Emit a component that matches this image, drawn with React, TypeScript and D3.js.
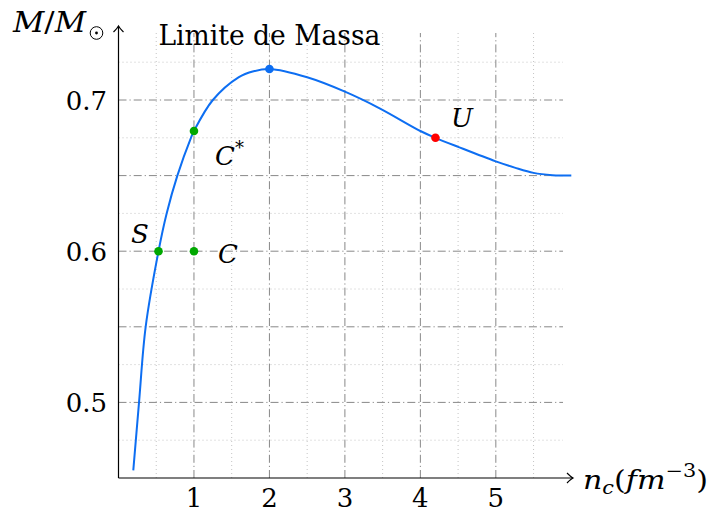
import React from 'react';
import * as d3 from 'd3';

// central density (fm^-3) vs mass (solar masses)
const curveN = [0.196, 0.272, 0.36, 0.53, 0.638, 0.78, 0.96, 1.0, 1.25, 1.59, 1.79, 2.0, 2.5, 3.0, 3.46, 4.0, 4.2, 4.5, 5.0, 5.25, 5.5, 5.75, 6.0];
const curveM = [0.455, 0.5, 0.55, 0.6, 0.625, 0.65, 0.675, 0.6795, 0.7, 0.715, 0.719, 0.7205, 0.715, 0.7055, 0.6945, 0.6795, 0.675, 0.669, 0.6594, 0.6553, 0.6518, 0.6503, 0.65];

const xMajorTicks = [1, 2, 3, 4, 5];
const xMinorTicks = [0.5, 1.5, 2.5, 3.5, 4.5, 5.5];
const yMajorTicks = [0.5, 0.55, 0.6, 0.65, 0.7];
const yMinorTicks = [0.475, 0.525, 0.575, 0.625, 0.675, 0.725];
const yTickLabels = [0.5, 0.6, 0.7];

const pointNames = ['S', 'C', 'C*', 'max', 'U'];
const pointN = [0.53, 1, 1, 2, 4.2];
const pointM = [0.6, 0.6, 0.6795, 0.7205, 0.675];
const pointColors = ['#00a800', '#00a800', '#00a800', '#0d6ef2', '#ff0000'];

const FONT = 'DejaVu Serif';
const LINE_BLUE = '#0d6ef2';

const App: React.FC = () => {
  const width = 713;
  const height = 512;

  const x = d3.scaleLinear().domain([0, 5.89]).range([118.5, 563]);
  const y = d3.scaleLinear().domain([0.45, 0.7]).range([478, 100]);
  const yTop = y.invert(33);

  const line = d3.line<number>()
    .x((_, i) => x(curveN[i]))
    .y(d => y(d))
    .curve(d3.curveCatmullRom.alpha(0.5));

  const x0 = x(0);
  const y0 = y(0.45);

  return (
    <svg width={width} height={height} style={{ position: 'absolute', left: 0, top: 0, background: '#fff', fontFamily: FONT }}>
      {/* minor grid */}
      <g stroke="#c4c4c4" strokeWidth={1} strokeDasharray="1 3">
        {xMinorTicks.map(t => (
          <line key={'xm' + t} x1={x(t)} x2={x(t)} y1={y0} y2={y(yTop)} />
        ))}
        {yMinorTicks.map(t => (
          <line key={'ym' + t} x1={x0} x2={x(5.89)} y1={y(t)} y2={y(t)} />
        ))}
      </g>
      {/* major grid */}
      <g stroke="#888" strokeWidth={1} strokeDasharray="8 3 1.2 3">
        {xMajorTicks.map(t => (
          <line key={'xM' + t} x1={x(t)} x2={x(t)} y1={y0} y2={y(yTop)} />
        ))}
        {yMajorTicks.map(t => (
          <line key={'yM' + t} x1={x0} x2={x(5.89)} y1={y(t)} y2={y(t)} />
        ))}
      </g>

      {/* axes */}
      <g stroke="#000" strokeWidth={1.2} fill="none">
        <line x1={x0} x2={573} y1={y0} y2={y0} />
        <path d={`M${573 - 6},${y0 - 5} Q${573 - 2},${y0 - 1} ${573},${y0} Q${573 - 2},${y0 + 1} ${573 - 6},${y0 + 5}`} />
        <line x1={x0} x2={x0} y1={y0} y2={26} />
        <path d={`M${x0 - 5},${26 + 6} Q${x0 - 1},${26 + 2} ${x0},${26} Q${x0 + 1},${26 + 2} ${x0 + 5},${26 + 6}`} />
      </g>

      {/* tick labels */}
      <g fontSize={26} fill="#000">
        {xMajorTicks.map(t => (
          <text key={'xl' + t} x={x(t)} y={507} textAnchor="middle">{t}</text>
        ))}
        {yTickLabels.map(t => (
          <text key={'yl' + t} x={107} y={y(t) + 9.5} textAnchor="end">{t.toFixed(1)}</text>
        ))}
      </g>

      {/* mass curve */}
      <path d={line(curveM) || ''} fill="none" stroke={LINE_BLUE} strokeWidth={2} />

      {/* marked configurations */}
      {pointNames.map((name, i) => (
        <circle key={name} cx={x(pointN[i])} cy={y(pointM[i])} r={4.3} fill={pointColors[i]} />
      ))}

      {/* annotations */}
      <g fontSize={26} fill="#000">
        <text x={x(2)} y={45} fontSize={27} textAnchor="middle" textLength={222} lengthAdjust="spacingAndGlyphs">Limite de Massa</text>
        <text x={140} y={243} textAnchor="middle" fontStyle="italic">S</text>
        <text x={218} y={262.5} fontStyle="italic">C</text>
        <text x={215} y={165} fontStyle="italic">C<tspan fontSize={18} fontStyle="normal" dy={-11}>*</tspan></text>
        <text x={451} y={127} fontStyle="italic">U</text>
      </g>

      {/* y axis label */}
      <g fill="#000">
        <text x={13} y={32} fontSize={27} fontStyle="italic" textLength={73} lengthAdjust="spacingAndGlyphs">M<tspan fontStyle="normal">/</tspan>M</text>
        <circle cx={96.5} cy={33} r={6.3} fill="none" stroke="#000" strokeWidth={1} />
        <circle cx={96.5} cy={33} r={1.4} fill="#000" />
      </g>

      {/* x axis label */}
      <text x={583} y={489} fontSize={26} fill="#000" textLength={125} lengthAdjust="spacingAndGlyphs">
        <tspan fontStyle="italic">n</tspan>
        <tspan fontStyle="italic" fontSize={18} dy={5}>c</tspan>
        <tspan dy={-5}>(</tspan>
        <tspan fontStyle="italic">fm</tspan>
        <tspan fontSize={18} dy={-12}>−3</tspan>
        <tspan dy={12}>)</tspan>
      </text>
    </svg>
  );
};

export default App;
